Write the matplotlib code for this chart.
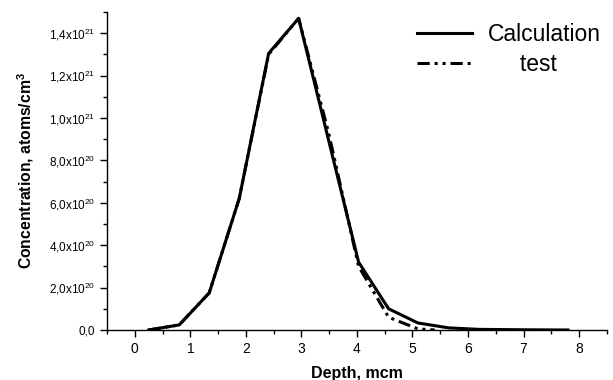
import matplotlib
matplotlib.use("Agg")
import matplotlib.pyplot as plt
from matplotlib.ticker import MultipleLocator, FixedLocator

plt.rcParams['font.family'] = ['Liberation Sans', 'DejaVu Sans']
plt.rcParams['mathtext.fontset'] = 'custom'
plt.rcParams['mathtext.rm'] = 'Liberation Sans'
plt.rcParams['mathtext.bf'] = 'Liberation Sans:bold'

# depth, mcm
depth_calc = [0.25, 0.8, 1.34, 1.88, 2.41, 2.95, 3.49, 4.03, 4.57, 5.1, 5.65, 6.2, 7.0, 7.8]
conc_calc = [0.0, 0.024e21, 0.175e21, 0.62e21, 1.305e21, 1.47e21, 0.895e21, 0.32e21,
             0.10e21, 0.033e21, 0.01e21, 0.003e21, 0.001e21, 0.0]

depth_test = [0.25, 0.8, 1.34, 1.88, 2.41, 2.95, 3.49, 4.03, 4.57, 5.1, 5.4]
conc_test = [0.0, 0.024e21, 0.175e21, 0.62e21, 1.30e21, 1.47e21, 0.93e21, 0.30e21,
             0.06e21, 0.005e21, 0.0]

y_ticks = [0.0, 0.2e21, 0.4e21, 0.6e21, 0.8e21, 1.0e21, 1.2e21, 1.4e21]
y_labels = ['0,0', r'2,0x10$^{20}$', r'4,0x10$^{20}$', r'6,0x10$^{20}$', r'8,0x10$^{20}$',
            r'1,0x10$^{21}$', r'1,2x10$^{21}$', r'1,4x10$^{21}$']

fig = plt.figure(figsize=(6.13, 3.8), dpi=100)
ax = fig.add_axes([0.1746, 0.1316, 0.8154, 0.8368])

ax.plot(depth_calc, conc_calc, color='black', lw=2.2, label='Calculation')
ax.plot(depth_test, conc_test, color='black', lw=2.2,
        dashes=(4, 1.6, 1, 1.6, 1, 1.6), label='     test')

ax.set_xlim(-0.5, 8.5)
ax.set_ylim(0, 1.5e21)
ax.xaxis.set_major_locator(MultipleLocator(1))
ax.xaxis.set_minor_locator(MultipleLocator(0.5))
ax.yaxis.set_major_locator(FixedLocator(y_ticks))
ax.yaxis.set_minor_locator(MultipleLocator(0.1e21))
ax.set_yticklabels(y_labels)

for s in ['top', 'right']:
    ax.spines[s].set_visible(False)
for s in ['left', 'bottom']:
    ax.spines[s].set_linewidth(1.0)

ax.tick_params(axis='x', which='major', direction='out', length=5, width=1, labelsize=10)
ax.tick_params(axis='y', which='major', direction='out', length=5, width=1, labelsize=8.5)
ax.tick_params(which='minor', direction='out', length=3, width=1)

ax.set_xlabel('Depth, mcm', fontsize=11.5, fontweight='bold', labelpad=7)
ax.set_ylabel(r'Concentration, atoms/cm$^\mathbf{3}$', fontsize=11.3, fontweight='bold', labelpad=9)

ax.legend(loc='upper right', frameon=False, fontsize=16.5, handlelength=2.4,
          bbox_to_anchor=(1.03, 1.03), labelspacing=0.3, handletextpad=0.7)

fig.savefig('out.png', dpi=100)
